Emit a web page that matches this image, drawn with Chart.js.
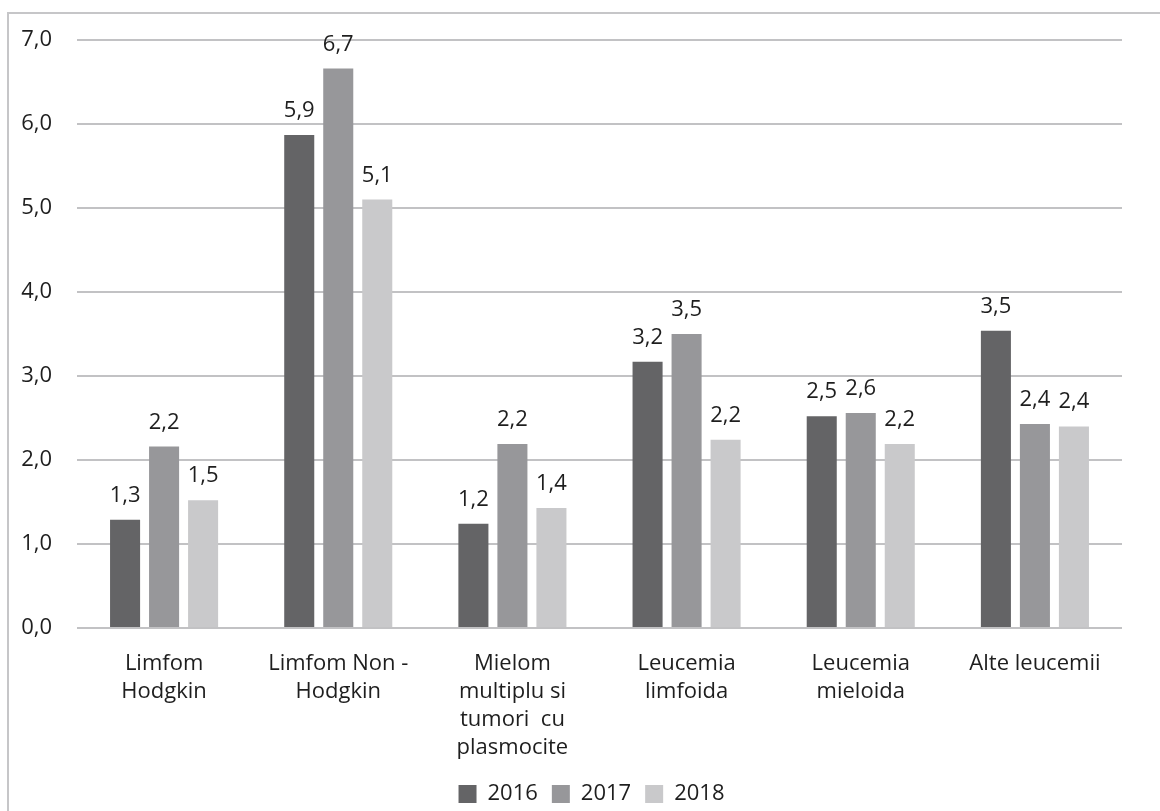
<!DOCTYPE html>
<html>
<head>
<meta charset="utf-8">
<script src="https://cdn.jsdelivr.net/npm/chart.js@4.4.1/dist/chart.umd.min.js"></script>
<style>
    html, body { margin: 0; padding: 0; background: #fff; overflow: hidden; }
    .frame {
        position: absolute;
        left: 7px;
        top: 12px;
        width: 1170px;
        height: 820px;
        border: 2px solid #c6c6c8;
        box-sizing: border-box;
    }
    .chart-box {
        position: absolute;
        left: 9px;
        top: 14px;
        width: 1151px;
        height: 801px;
    }
</style>
</head>
<body>
<div class="frame"></div>
<div class="chart-box"><canvas id="cancerChart"></canvas></div>
<script>
const categories = [
    ['Limfom', 'Hodgkin'],
    ['Limfom Non -', 'Hodgkin'],
    ['Mielom', 'multiplu si', 'tumori  cu', 'plasmocite'],
    ['Leucemia', 'limfoida'],
    ['Leucemia', 'mieloida'],
    'Alte leucemii'
];
const years = ['2016', '2017', '2018'];
const values2016 = [1.29, 5.87, 1.24, 3.17, 2.52, 3.54];
const values2017 = [2.16, 6.66, 2.19, 3.50, 2.56, 2.43];
const values2018 = [1.52, 5.10, 1.43, 2.24, 2.19, 2.40];
const yTicks = [0, 1, 2, 3, 4, 5, 6, 7];

const colors = ['#646466', '#97979a', '#c9c9cb'];
const fontFamily = '"Open Sans", sans-serif';
const textColor = '#1e1e1e';

function fmt(v) {
    return v.toFixed(1).replace('.', ',');
}

// value labels above the bars
const barLabels = {
    id: 'barLabels',
    afterDatasetsDraw(chart) {
        const ctx = chart.ctx;
        ctx.save();
        ctx.font = '22px ' + fontFamily;
        ctx.fillStyle = textColor;
        ctx.textAlign = 'center';
        ctx.textBaseline = 'alphabetic';
        chart.data.datasets.forEach((ds, i) => {
            chart.getDatasetMeta(i).data.forEach((bar, j) => {
                ctx.fillText(fmt(ds.data[j]), bar.x, bar.y - 18);
            });
        });
        ctx.restore();
    }
};

// nudge the legend a little to the right, like the original
const legendShift = {
    id: 'legendShift',
    afterLayout(chart) {
        if (chart.legend) {
            chart.legend.left += 26;
            chart.legend.right += 26;
        }
    }
};

const ctx = document.getElementById('cancerChart').getContext('2d');
new Chart(ctx, {
    type: 'bar',
    data: {
        labels: categories,
        datasets: [
            { label: years[0], data: values2016, backgroundColor: colors[0] },
            { label: years[1], data: values2017, backgroundColor: colors[1] },
            { label: years[2], data: values2018, backgroundColor: colors[2] }
        ]
    },
    options: {
        responsive: true,
        maintainAspectRatio: false,
        animation: false,
        datasets: {
            bar: {
                borderWidth: 0,
                barPercentage: 0.77,
                categoryPercentage: 0.672
            }
        },
        layout: {
            padding: { top: 26, right: 38, bottom: 0, left: 0 }
        },
        plugins: {
            legend: {
                position: 'bottom',
                labels: {
                    color: textColor,
                    font: { family: fontFamily, size: 22 },
                    boxWidth: 18,
                    boxHeight: 18,
                    padding: 14
                }
            },
            tooltip: { enabled: false }
        },
        scales: {
            x: {
                grid: { display: false, drawTicks: false },
                border: { display: false },
                ticks: {
                    color: textColor,
                    font: { family: fontFamily, size: 22, lineHeight: 1.27 },
                    padding: 22,
                    maxRotation: 0,
                    autoSkip: false
                },
                afterFit(scale) {
                    scale.height = 141;
                    scale.paddingLeft = 0;
                    scale.paddingRight = 0;
                }
            },
            y: {
                min: 0,
                max: 7,
                afterBuildTicks(scale) {
                    scale.ticks = yTicks.map(v => ({ value: v }));
                },
                grid: { color: '#c2c2c4', lineWidth: 2, drawTicks: false },
                border: { display: false },
                ticks: {
                    color: textColor,
                    font: { family: fontFamily, size: 22 },
                    padding: 25,
                    callback: v => fmt(v)
                },
                afterFit(scale) {
                    scale.width = 68;
                    scale.paddingTop = 0;
                    scale.paddingBottom = 0;
                }
            }
        }
    },
    plugins: [barLabels, legendShift]
});
</script>
</body>
</html>
